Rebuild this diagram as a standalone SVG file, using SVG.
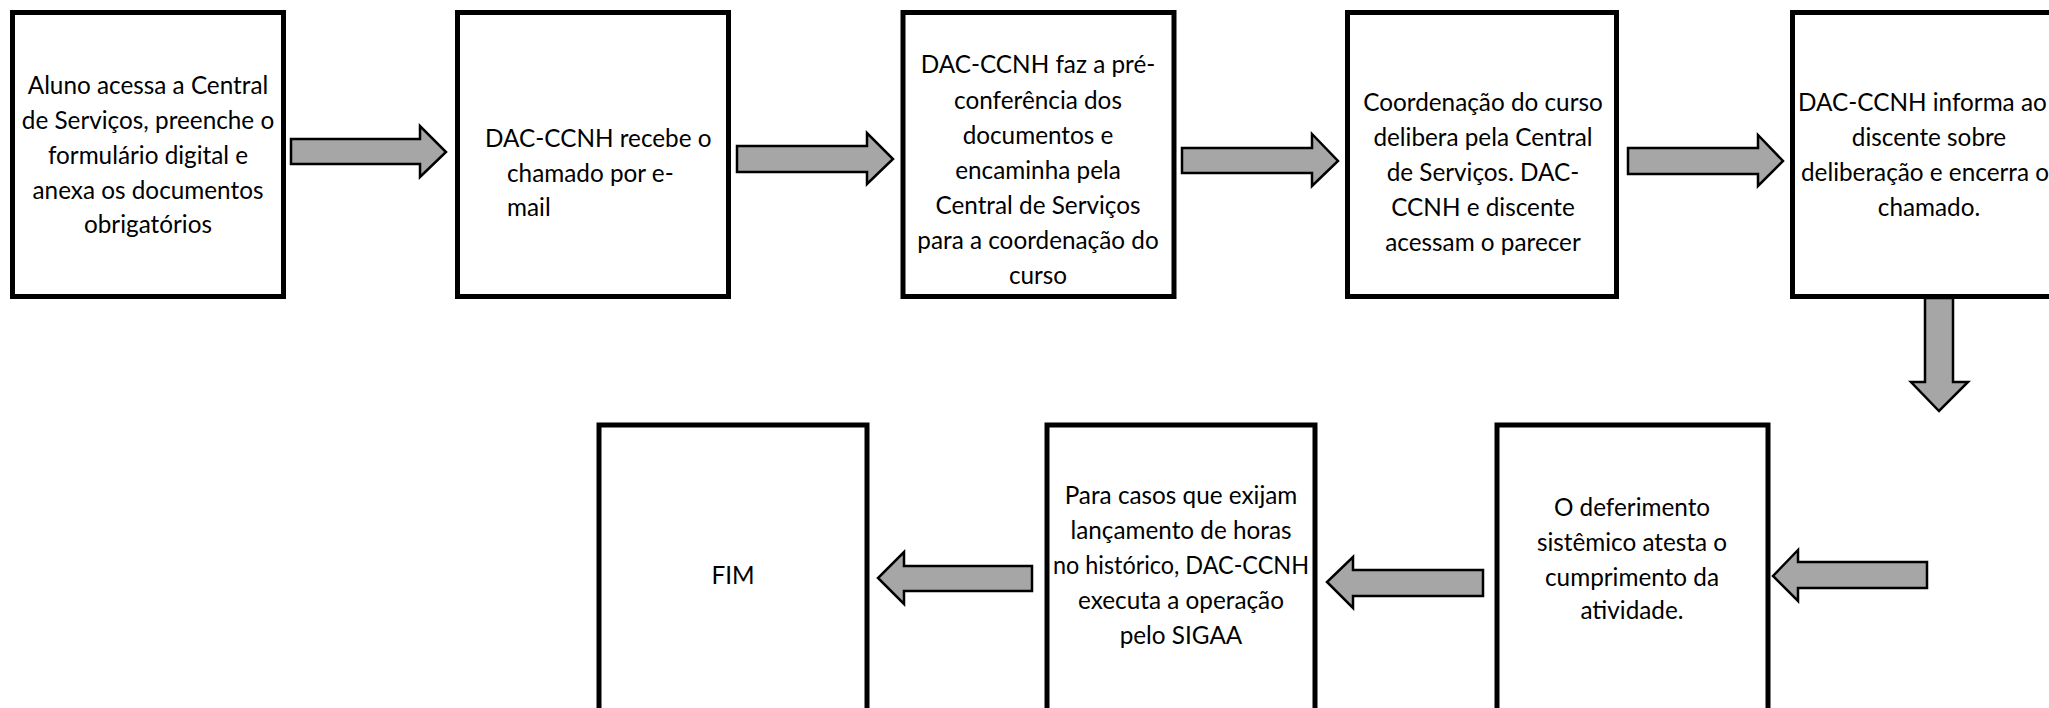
<svg xmlns="http://www.w3.org/2000/svg" width="2049" height="708" viewBox="0 0 2049 708">
<style>
.box{fill:#fff;stroke:#000;stroke-width:5}
.arr{fill:#a6a6a6;stroke:#000;stroke-width:2.5;stroke-linejoin:miter}
text{font-family:Lato,"Liberation Sans",sans-serif;font-size:24.3px;fill:#000}
.c{text-anchor:middle}
</style>
<rect width="2049" height="708" fill="#fff"/>
<g id="connectors">
<polygon class="arr" points="291,139 420,139 420,126 446,152 420,177 420,164 291,164"/>
<polygon class="arr" points="737,146 867,146 867,133 893,159 867,184 867,172 737,172"/>
<polygon class="arr" points="1182,148 1312,148 1312,134 1338,161 1312,186 1312,173 1182,173"/>
<polygon class="arr" points="1628,148 1758,148 1758,135 1783,161 1758,186 1758,174 1628,174"/>
<polygon class="arr" points="1925,298 1953,298 1953,382 1968,382 1939,411 1911,382 1925,382"/>
<polygon class="arr" points="1927,562 1798,562 1798,550 1773,576 1798,601 1798,588 1927,588"/>
<polygon class="arr" points="1483,570 1353,570 1353,557 1327,582 1353,608 1353,596 1483,596"/>
<polygon class="arr" points="1032,566 904,566 904,552 878,578 904,604 904,591 1032,591"/>
</g>
<g id="n1"><rect class="box" x="12.5" y="12.5" width="271" height="284"/>
<text class="c" x="148"><tspan x="148" y="94">Aluno acessa a Central</tspan><tspan x="148" y="129">de Serviços, preenche o</tspan><tspan x="148" y="164">formulário digital e</tspan><tspan x="148" y="199">anexa os documentos</tspan><tspan x="148" y="233">obrigatórios</tspan></text></g>
<g id="n2"><rect class="box" x="457.5" y="12.5" width="271" height="284"/>
<text><tspan x="485" y="147">DAC-CCNH recebe o</tspan><tspan x="507" y="182">chamado por e-</tspan><tspan x="507" y="216">mail</tspan></text></g>
<g id="n3"><rect class="box" x="903" y="12.5" width="271" height="284"/>
<text class="c"><tspan x="1038" y="73">DAC-CCNH faz a pré-</tspan><tspan x="1038" y="108.5">conferência dos</tspan><tspan x="1038" y="144">documentos e</tspan><tspan x="1038" y="179">encaminha pela</tspan><tspan x="1038" y="214">Central de Serviços</tspan><tspan x="1038" y="249">para a coordenação do</tspan><tspan x="1038" y="284">curso</tspan></text></g>
<g id="n4"><rect class="box" x="1347.5" y="12.5" width="269" height="284"/>
<text class="c"><tspan x="1483" y="111">Coordenação do curso</tspan><tspan x="1483" y="146">delibera pela Central</tspan><tspan x="1483" y="181">de Serviços. DAC-</tspan><tspan x="1483" y="216">CCNH e discente</tspan><tspan x="1483" y="251">acessam o parecer</tspan></text></g>
<g id="n5"><rect class="box" x="1792.5" y="12.5" width="271" height="284"/>
<text><tspan x="1798" y="111">DAC-CCNH informa ao</tspan></text>
<text class="c"><tspan x="1929" y="146">discente sobre</tspan><tspan x="1925" y="181">deliberação e encerra o</tspan><tspan x="1929" y="216">chamado.</tspan></text></g>
<g id="n6"><rect class="box" x="1497" y="425" width="271" height="300"/>
<text class="c"><tspan x="1632" y="516">O deferimento</tspan><tspan x="1632" y="551">sistêmico atesta o</tspan><tspan x="1632" y="586">cumprimento da</tspan><tspan x="1632" y="619">atividade.</tspan></text></g>
<g id="n7"><rect class="box" x="1047" y="425" width="268" height="300"/>
<text class="c"><tspan x="1181" y="504">Para casos que exijam</tspan><tspan x="1181" y="539">lançamento de horas</tspan><tspan x="1181" y="574" textLength="256" lengthAdjust="spacingAndGlyphs">no histórico, DAC-CCNH</tspan><tspan x="1181" y="609">executa a operação</tspan><tspan x="1181" y="644">pelo SIGAA</tspan></text></g>
<g id="n8"><rect class="box" x="599" y="425" width="268" height="300"/>
<text class="c" x="733" y="584">FIM</text></g>
</svg>
